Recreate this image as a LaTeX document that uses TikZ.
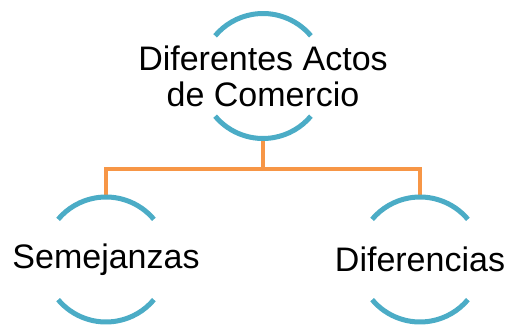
\documentclass[tikz,border=0pt]{standalone}
\usepackage{fontspec}
\setmainfont{Liberation Sans}
\usetikzlibrary{calc}

\definecolor{ringblue}{HTML}{4BACC6}
\definecolor{linkorange}{HTML}{F79646}

\tikzset{
  ring/.style={circle,inner sep=0pt,minimum size=125pt},
  ringtext/.style={inner sep=0pt,align=center,
    font=\fontsize{34}{36}\selectfont},
  arcline/.style={ringblue,line width=5pt},
  link/.style={linkorange,line width=4pt}
}

\begin{document}
\begin{tikzpicture}[x=1pt,y=1pt]
\useasboundingbox (0,0) rectangle (511,327);

\node[ring] (actos) at (263,251) {};
\node[ring] (seme) at (106,67.5) {};
\node[ring] (dife) at (420,67.5) {};

\node[ringtext] (actos-t) at (actos.center) {Diferentes Actos\\de Comercio};
\node[ringtext] (seme-t) at (seme.center) {Semejanzas};
\node[ringtext] (dife-t) at (dife.center) {Diferencias};

% connectors
\coordinate (bar) at ($(actos.south)+(0,-30)$);
\draw[link] (actos.south) -- (bar) -| (seme.north);
\draw[link] (bar) -| (dife.north);

% arcs
\foreach \n in {actos,seme,dife}{
  \draw[arcline] ($(\n.center)+(40:62.5)$) arc[start angle=40,end angle=140,radius=62.5];
  \draw[arcline] ($(\n.center)+(220:62.5)$) arc[start angle=220,end angle=320,radius=62.5];
}

\end{tikzpicture}
\end{document}
